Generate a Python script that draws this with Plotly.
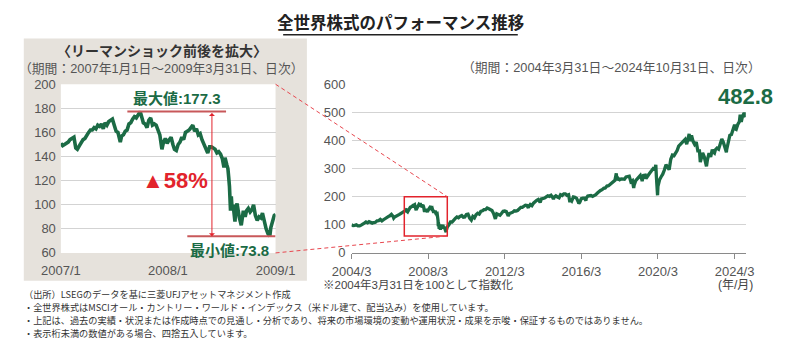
import pandas as pd
import plotly.graph_objects as go

W, H = 800, 348

# ---------------- data ----------------
# Inset: Lehman shock period (2007/1/1 - 2009/3/31), index (2004/3/31 = 100)
inset_dates = [
    "2007-01-01", "2007-01-08", "2007-01-15", "2007-01-22", "2007-01-29", "2007-02-05", "2007-02-12",
    "2007-02-20", "2007-02-27", "2007-03-05", "2007-03-13", "2007-03-20", "2007-03-27", "2007-04-03",
    "2007-04-10", "2007-04-17", "2007-04-24", "2007-05-01", "2007-05-08", "2007-05-15", "2007-05-22",
    "2007-05-29", "2007-06-05", "2007-06-12", "2007-06-19", "2007-06-26", "2007-07-03", "2007-07-10",
    "2007-07-17", "2007-07-24", "2007-07-31", "2007-08-07", "2007-08-14", "2007-08-16", "2007-08-21",
    "2007-08-28", "2007-09-04", "2007-09-11", "2007-09-18", "2007-09-25", "2007-10-02", "2007-10-09",
    "2007-10-16", "2007-10-23", "2007-10-31", "2007-11-07", "2007-11-12", "2007-11-19", "2007-11-26",
    "2007-12-03", "2007-12-10", "2007-12-17", "2007-12-24", "2007-12-31",
    "2008-01-07", "2008-01-14", "2008-01-22", "2008-01-28", "2008-02-04", "2008-02-11", "2008-02-19",
    "2008-02-26", "2008-03-04", "2008-03-10", "2008-03-17", "2008-03-24", "2008-03-31", "2008-04-07",
    "2008-04-14", "2008-04-21", "2008-04-28", "2008-05-05", "2008-05-12", "2008-05-19", "2008-05-26",
    "2008-06-02", "2008-06-09", "2008-06-16", "2008-06-23", "2008-06-30", "2008-07-07", "2008-07-15",
    "2008-07-22", "2008-07-29", "2008-08-05", "2008-08-12", "2008-08-19", "2008-08-26", "2008-09-02",
    "2008-09-09", "2008-09-15", "2008-09-19", "2008-09-26", "2008-09-30", "2008-10-03", "2008-10-06",
    "2008-10-10", "2008-10-13", "2008-10-16", "2008-10-20", "2008-10-27", "2008-10-30", "2008-11-04",
    "2008-11-07", "2008-11-12", "2008-11-20", "2008-11-24", "2008-11-28", "2008-12-05", "2008-12-10",
    "2008-12-17", "2008-12-24", "2008-12-31",
    "2009-01-06", "2009-01-13", "2009-01-20", "2009-01-27", "2009-02-03", "2009-02-09", "2009-02-17",
    "2009-02-23", "2009-03-02", "2009-03-09", "2009-03-13", "2009-03-18", "2009-03-23", "2009-03-26",
    "2009-03-31",
]
inset_values = [
    151, 149, 150, 151, 152, 154, 155,
    156, 147, 146, 149, 152, 154, 155,
    158, 160, 162, 162, 164, 163, 166,
    165, 167, 163, 168, 166, 169, 170,
    171, 166, 161, 160, 155, 152, 157,
    158, 161, 162, 167, 168, 171, 173,
    172, 174, 177.3, 172, 168, 167, 164,
    170, 172, 166, 167, 166,
    162, 158, 146, 152, 155, 151, 154,
    156, 150, 146, 145, 150, 152, 156,
    154, 160, 161, 162, 164, 166, 161,
    163, 158, 159, 154, 150, 147, 143,
    148, 148, 147, 146, 143, 144, 142,
    138, 131, 139, 133, 130, 123, 115,
    95, 107, 97, 100, 86, 97, 101,
    95, 90, 83, 91, 95, 90, 95,
    97, 94, 96,
    100, 91, 87, 90, 89, 93, 84,
    80, 76, 73.8, 81, 85, 90, 91,
    92,
]

# Main chart: month-end values 2004/3 - 2006/12
pre_start = "2004-03-01"
pre_values = [
    100, 97, 98, 100, 96, 96, 99, 101, 106, 110,
    107, 111, 108, 106, 108, 109, 114, 115, 119, 114, 118, 122,
    128, 129, 132, 137, 130, 128, 130, 134, 137, 141, 144, 148,
]
# Main chart: month-end values 2009/4 - 2024/10
post_start = "2009-04-01"
post_values = [
    100, 110, 110, 119, 123, 128, 125, 130, 133,
    127, 128, 137, 138, 124, 120, 130, 125, 136, 141, 138, 148,
    150, 154, 154, 160, 157, 154, 151, 140, 126, 139, 135, 134,
    141, 148, 149, 147, 134, 140, 142, 145, 150, 149, 151, 155,
    162, 162, 165, 170, 169, 164, 172, 168, 177, 184, 187, 190,
    183, 192, 193, 195, 199, 203, 201, 205, 198, 199, 203, 199,
    196, 207, 204, 210, 210, 205, 207, 192, 185, 199, 198, 194,
    182, 180, 193, 195, 195, 194, 202, 203, 204, 201, 203, 207,
    213, 219, 222, 225, 230, 231, 238, 239, 244, 249, 254, 258,
    278, 266, 260, 263, 263, 262, 270, 272, 273, 253, 257, 240,
    257, 264, 267, 276, 260, 276, 277, 270, 277, 285, 292, 300,
    297, 273, 237, 260, 271, 280, 295, 314, 305, 297, 333, 348,
    346, 355, 364, 380, 386, 391, 394, 404, 387, 408, 398, 418,
    396, 386, 394, 363, 363, 333, 356, 342, 313, 332, 355, 342,
    367, 357, 367, 373, 369, 391, 405, 393, 377, 366, 399, 418,
    421, 440, 456, 439, 457, 467, 475, 487, 498, 482.8,
]
# Intra-month highs / lows visible in the main chart
extreme_dates = [
    "2004-08-13", "2005-04-20", "2006-06-13", "2010-07-02", "2011-10-04", "2012-06-04",
    "2013-06-24", "2014-02-04", "2014-10-16", "2015-08-25", "2016-02-11", "2016-06-27",
    "2018-01-26", "2018-02-08", "2018-12-24", "2019-06-03", "2019-08-15", "2020-02-19",
    "2020-03-23", "2020-10-30", "2021-11-16", "2022-06-16", "2022-10-12", "2023-03-13",
    "2023-10-27", "2024-04-19", "2024-07-16", "2024-08-05",
]
extreme_values = [
    95, 105, 124, 117, 121, 131,
    160, 180, 191, 180, 176, 186,
    283, 258, 231, 255, 264, 313,
    205, 296, 423, 323, 308, 355,
    358, 440, 492, 466,
]

inset_y_ticks = [60, 80, 100, 120, 140, 160, 180, 200]
inset_x_tickdates = ["2007-01-01", "2008-02-14", "2009-03-31"]
inset_x_ticktext = ["2007/1", "2008/1", "2009/1"]
main_y_ticks = [0, 100, 200, 300, 400, 500, 600]
main_x_tickdates = ["2004-03-31", "2008-03-31", "2012-03-31", "2016-03-31", "2020-03-31", "2024-03-31"]
main_x_ticktext = ["2004/3", "2008/3", "2012/3", "2016/3", "2020/3", "2024/3"]
inset_range = ["2007-01-01", "2009-03-31"]
main_range = ["2004-03-31", "2024-10-31"]

max_value = 177.3
min_value = 73.8
drop_label = "▲58%"
last_value = 482.8

# ---------------- build series ----------------
pre_dates = pd.date_range(pre_start, periods=len(pre_values), freq="MS") + pd.offsets.MonthEnd(0)
post_dates = pd.date_range(post_start, periods=len(post_values), freq="MS") + pd.offsets.MonthEnd(0)
main = pd.concat([
    pd.DataFrame({"d": pre_dates, "v": pre_values}),
    pd.DataFrame({"d": pd.to_datetime(inset_dates), "v": inset_values}),
    pd.DataFrame({"d": post_dates, "v": post_values}),
    pd.DataFrame({"d": pd.to_datetime(extreme_dates), "v": extreme_values}),
]).sort_values("d").drop_duplicates("d", keep="first")

GREEN = "#1b6b45"
RED = "#e2232c"
GRID = "#d3d3d3"
TICK = "#555555"
FONT = "Liberation Sans, Noto Sans CJK JP, sans-serif"
JP = "Noto Sans CJK JP, sans-serif"


def px(x):
    return x / W


def py(y):
    return 1 - y / H


dom_x1 = [px(43), px(269)]
dom_x2 = [px(349), px(764)]
dom_y = [py(257), py(80.7)]


def main_x_paper(d):
    t0, t1 = pd.Timestamp(main_range[0]), pd.Timestamp(main_range[1])
    f = (pd.Timestamp(d) - t0) / (t1 - t0)
    return dom_x2[0] + f * (dom_x2[1] - dom_x2[0])


def main_y_paper(v):
    return dom_y[0] + v / 600 * (dom_y[1] - dom_y[0])


fig = go.Figure()
fig.add_trace(go.Scatter(x=pd.to_datetime(inset_dates), y=inset_values, mode="lines",
                         line=dict(color=GREEN, width=3.6), xaxis="x", yaxis="y",
                         hoverinfo="skip"))
fig.add_trace(go.Scatter(x=main["d"], y=main["v"], mode="lines",
                         line=dict(color=GREEN, width=3.3), xaxis="x2", yaxis="y2",
                         hoverinfo="skip"))

shapes = [
    # grey inset panel
    dict(type="rect", xref="paper", yref="paper", x0=px(4), x1=px(302), y0=py(286), y1=py(33),
         fillcolor="#e6e2dc", line=dict(width=0), layer="below"),
    # white plot area of inset
    dict(type="rect", xref="paper", yref="paper", x0=dom_x1[0], x1=dom_x1[1], y0=dom_y[0], y1=dom_y[1],
         fillcolor="white", line=dict(width=0), layer="below"),
    # title underline
    dict(type="line", xref="paper", yref="paper", x0=px(277), x1=px(524), y0=py(29), y1=py(29),
         line=dict(color="#222222", width=1.5)),
    # max / min lines
    dict(type="line", xref="x", yref="y", x0="2007-09-12", x1="2008-09-23", y0=max_value, y1=max_value,
         line=dict(color="#c8585a", width=2)),
    dict(type="line", xref="x", yref="y", x0="2008-04-28", x1=inset_range[1], y0=min_value, y1=min_value,
         line=dict(color="#c8585a", width=2)),
    # zoom rectangle on the main chart
    dict(type="rect", xref="x2", yref="y2", x0=inset_range[0], x1=inset_range[1], y0=60, y1=200,
         line=dict(color=RED, width=1.5)),
    # connectors
    dict(type="line", xref="paper", yref="paper", x0=dom_x1[1], y0=dom_y[1],
         x1=main_x_paper(inset_range[1]), y1=main_y_paper(200),
         line=dict(color="#e8474f", width=1, dash="4px,3px"), layer="above"),
    dict(type="line", xref="paper", yref="paper", x0=dom_x1[1], y0=dom_y[0],
         x1=main_x_paper(inset_range[1]), y1=main_y_paper(60),
         line=dict(color="#e8474f", width=1, dash="4px,3px"), layer="above"),
]

ann = [
    dict(text="<b>全世界株式のパフォーマンス推移</b>", x=px(400), y=py(16), font=dict(size=16.5, color="#222", family=JP)),
    dict(text="<b>〈リーマンショック前後を拡大〉</b>", x=px(149), y=py(45), font=dict(size=14, color="#333", family=JP)),
    dict(text="（期間：2007年1月1日～2009年3月31日、日次）", x=px(148), y=py(64), font=dict(size=12.8, color="#555", family=FONT)),
    dict(text="（期間：2004年3月31日～2024年10月31日、日次）", x=px(623), y=py(63), font=dict(size=12.8, color="#555", family=FONT)),
    dict(text="<b>最大値:%.1f</b>" % max_value, x=px(165), y=py(96), font=dict(size=15, color=GREEN, family=FONT)),
    dict(text="<b>最小値:%.1f</b>" % min_value, x=px(221), y=py(254), font=dict(size=15, color=GREEN, family=FONT)),
    dict(text="<b>%s</b>" % drop_label, x=px(163), y=py(181), font=dict(size=22, color=RED, family=FONT)),
    dict(text="※2004年3月31日を100として指数化", x=px(318), y=py(290), xanchor="left", font=dict(size=11.5, color="#444", family=FONT)),
    dict(text="(年/月)", x=px(753), y=py(290), font=dict(size=12, color="#444", family=FONT)),
]
for a in ann:
    a.update(xref="paper", yref="paper", showarrow=False, borderpad=0)
    a.setdefault("xanchor", "center")
    a.setdefault("yanchor", "middle")

notes = [
    "（出所）LSEGのデータを基に三菱UFJアセットマネジメント作成",
    "・全世界株式はMSCIオール・カントリー・ワールド・インデックス（米ドル建て、配当込み）を使用しています。",
    "・上記は、過去の実績・状況または作成時点での見通し・分析であり、将来の市場環境の変動や運用状況・成果を示唆・保証するものではありません。",
    "・表示桁未満の数値がある場合、四捨五入しています。",
]
for i, n in enumerate(notes):
    ann.append(dict(text=n, xref="paper", yref="paper", x=px(3), y=py(300 + 13.4 * i), xanchor="left",
                    yanchor="middle", showarrow=False, borderpad=0,
                    font=dict(size=9.2, color="#333", family=JP)))

# last value label
ann.append(dict(text="<b>%.1f</b>" % last_value, xref="x2", yref="y2", x=main_range[1], y=last_value,
                xanchor="center", yanchor="middle", yshift=21, showarrow=False, borderpad=0,
                font=dict(size=22, color=GREEN, family=FONT)))
# double arrow for the drawdown
ann.append(dict(text="", xref="x", yref="y", axref="x", ayref="y", x="2008-07-31", y=min_value,
                ax="2008-07-31", ay=max_value, showarrow=True, arrowside="end+start",
                arrowhead=1, startarrowhead=1, arrowsize=1, startarrowsize=1, arrowwidth=1,
                arrowcolor=RED, standoff=0, startstandoff=0))

fig.update_layout(
    width=W, height=H, autosize=False,
    margin=dict(l=0, r=0, t=0, b=0),
    paper_bgcolor="white", plot_bgcolor="rgba(0,0,0,0)",
    showlegend=False,
    font=dict(family=FONT, size=13, color=TICK),
    shapes=shapes, annotations=ann,
    xaxis=dict(domain=dom_x1, anchor="y", type="date", range=inset_range, tickvals=inset_x_tickdates,
               ticktext=inset_x_ticktext, showgrid=False, zeroline=False, showline=False, ticks="",
               ticklabelstandoff=8, tickfont=dict(size=13, color=TICK)),
    yaxis=dict(domain=dom_y, anchor="x", range=[60, 200], tickvals=inset_y_ticks, showgrid=True,
               gridcolor=GRID, gridwidth=1, zeroline=False, showline=False, ticks="",
               ticklabelstandoff=4, tickfont=dict(size=13, color=TICK)),
    xaxis2=dict(domain=dom_x2, anchor="y2", type="date", range=main_range, tickvals=main_x_tickdates,
                ticktext=main_x_ticktext, showgrid=False, zeroline=False, showline=True,
                linecolor="#8a8a8a", linewidth=1, ticks="outside", ticklen=5, tickcolor="#8a8a8a",
                ticklabelstandoff=1, tickfont=dict(size=13, color=TICK)),
    yaxis2=dict(domain=dom_y, anchor="x2", range=[0, 600], tickvals=main_y_ticks, showgrid=True,
                gridcolor=GRID, gridwidth=1, zeroline=False, showline=False, ticks="",
                ticklabelstandoff=5, tickfont=dict(size=13, color=TICK)),
)

fig.write_html("out.html")
